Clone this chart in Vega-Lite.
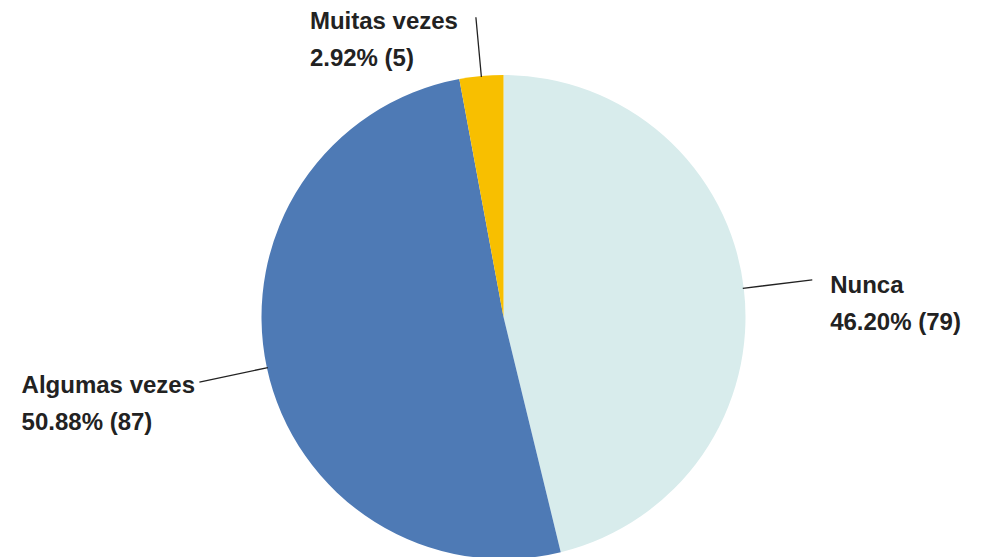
{
  "$schema": "https://vega.github.io/schema/vega-lite/v6.json",
  "width": 1007,
  "height": 634,
  "padding": 0,
  "autosize": {"type": "none"},
  "background": "white",
  "config": {"view": {"stroke": null}},
  "data": {
    "values": [
      {"categoria": "Nunca", "n": 79, "ordem": 1, "rotulo": "Nunca\n46.20% (79)"},
      {"categoria": "Algumas vezes", "n": 87, "ordem": 2, "rotulo": "Algumas vezes\n50.88% (87)"},
      {"categoria": "Muitas vezes", "n": 5, "ordem": 3, "rotulo": "Muitas vezes\n2.92% (5)"}
    ]
  },
  "encoding": {
    "theta": {"field": "n", "type": "quantitative", "stack": true},
    "order": {"field": "ordem", "type": "quantitative"}
  },
  "layer": [
    {
      "mark": {"type": "arc", "outerRadius": 242},
      "encoding": {
        "color": {
          "field": "categoria",
          "type": "nominal",
          "scale": {
            "domain": ["Nunca", "Algumas vezes", "Muitas vezes"],
            "range": ["#d8ecec", "#4e7ab5", "#f8bf00"]
          },
          "legend": null
        }
      }
    },
    {
      "transform": [
        {"stack": "n", "groupby": [], "sort": [{"field": "ordem", "order": "ascending"}], "as": ["t0", "t1"]},
        {"calculate": "(datum.t0 + datum.t1) / 2", "as": "meio"},
        {"filter": "datum.categoria !== 'Muitas vezes'"}
      ],
      "mark": {"type": "arc", "radius": 311, "radius2": 241, "stroke": "#222222", "strokeWidth": 1.3, "fill": null},
      "encoding": {
        "theta": {"field": "meio", "type": "quantitative", "stack": null},
        "theta2": {"field": "meio"}
      }
    },
    {
      "transform": [
        {"stack": "n", "groupby": [], "sort": [{"field": "ordem", "order": "ascending"}], "as": ["t0", "t1"]},
        {"calculate": "(datum.t0 + datum.t1) / 2", "as": "meio"},
        {"filter": "datum.categoria === 'Muitas vezes'"}
      ],
      "mark": {"type": "arc", "radius": 301, "radius2": 241, "stroke": "#222222", "strokeWidth": 1.3, "fill": null},
      "encoding": {
        "theta": {"field": "meio", "type": "quantitative", "stack": null},
        "theta2": {"field": "meio"}
      }
    },
    {
      "mark": {"type": "text", "radius": 330, "align": "left", "baseline": "alphabetic", "dx": -1, "dy": 15, "lineBreak": "\n", "lineHeight": 37, "font": "Liberation Sans", "fontWeight": "bold", "fontSize": 24, "color": "#222222"},
      "encoding": {"text": {"condition": {"test": "datum.categoria === 'Nunca'", "field": "rotulo"}, "value": ""}}
    },
    {
      "mark": {"type": "text", "radius": 320, "align": "left", "baseline": "alphabetic", "dx": -169, "dy": 9, "lineBreak": "\n", "lineHeight": 37, "font": "Liberation Sans", "fontWeight": "bold", "fontSize": 24, "color": "#222222"},
      "encoding": {"text": {"condition": {"test": "datum.categoria === 'Algumas vezes'", "field": "rotulo"}, "value": ""}}
    },
    {
      "mark": {"type": "text", "radius": 290, "align": "left", "baseline": "alphabetic", "dx": -167, "dy": 1, "lineBreak": "\n", "lineHeight": 37, "font": "Liberation Sans", "fontWeight": "bold", "fontSize": 24, "color": "#222222"},
      "encoding": {"text": {"condition": {"test": "datum.categoria === 'Muitas vezes'", "field": "rotulo"}, "value": ""}}
    }
  ]
}
